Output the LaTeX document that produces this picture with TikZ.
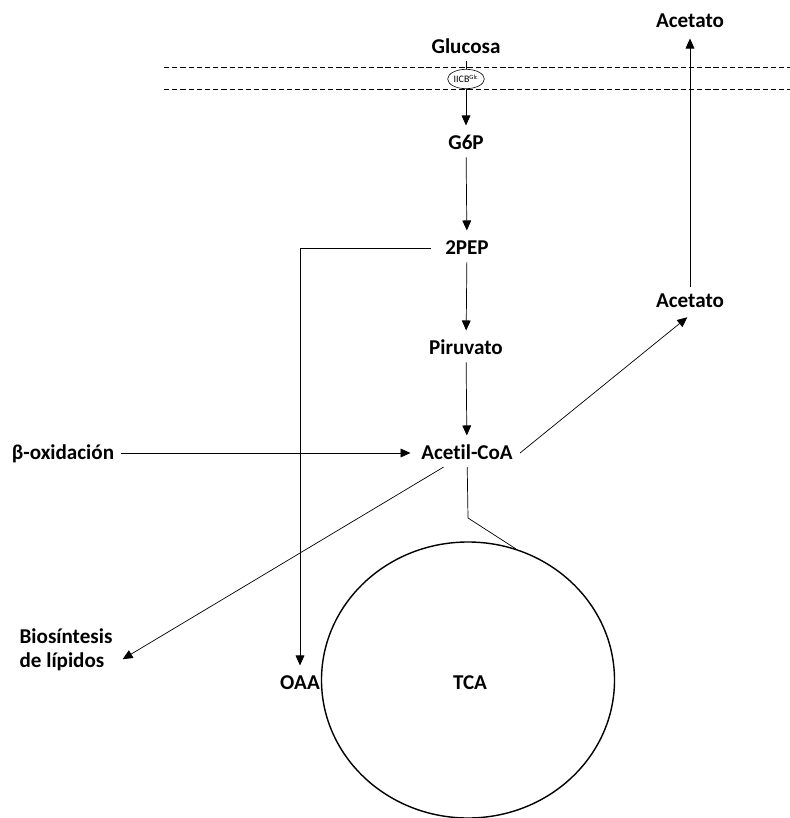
\documentclass[tikz,border=0pt]{standalone}
\usepackage{fontspec}
\setmainfont{Carlito}[Ligatures=NoCommon]
\usetikzlibrary{arrows.meta,shapes.geometric,positioning}

\begin{document}
\begin{tikzpicture}[
    x=0.03cm, y=-0.03cm,
    mol/.style={font=\fontsize{18}{21}\selectfont\bfseries, inner sep=6pt, text height=11.6pt, text depth=0pt},
    arr/.style={-{Triangle[length=8.5pt,width=7.5pt]}, line width=0.6pt, shorten >=3pt},
    ln/.style={line width=0.6pt},
    memb/.style={line width=0.6pt, dash pattern=on 4.5pt off 2.5pt}
]
\useasboundingbox (0,0) rectangle (790,818);

\draw[memb] (164,67) -- (790,67);
\draw[memb] (164,89) -- (790,89);

\node[mol] (gluc) at (466,47) {Glucosa};
\node[draw, ellipse, line width=0.5pt, minimum width=1.1cm, minimum height=0.58cm, inner sep=0pt, fill=white,
      font=\fontsize{8.5}{9}\selectfont] (iicb) at (466,79) {IICB\textsuperscript{\fontsize{5.5}{6}\selectfont Glc}};
\node[mol] (g6p) at (466,143) {G6P};
\node[mol] (pep) at (467,248) {2PEP};
\node[mol] (pir) at (466,348) {Piruvato};
\node[mol] (acoa) at (467,453) {Acetil-CoA};
\node[mol] (boxid) at (63,453) {β-oxidación};
\node[mol] (acet2) at (690,301) {Acetato};
\node[mol] (acet1) at (690,21) {Acetato};
\node[mol, align=left] (lip) at (66,661) {Biosíntesis\\de lípidos};
\node[mol] (oaa) at (300,683) {OAA};
\node[draw, ellipse, line width=1.2pt, minimum width=8.79cm, minimum height=8.28cm, inner sep=0pt] (tca) at (468,680) {};
\node[mol] (tcat) at (470,683) {TCA};
\coordinate (bend) at (468,518);

\draw[ln] (gluc) -- (iicb);
\draw[arr] (iicb) -- (g6p);
\draw[arr] (g6p) -- (pep);
\draw[arr] (pep) -- (pir);
\draw[arr] (pir) -- (acoa);
\draw[arr] (boxid) -- (acoa);
\draw[arr, shorten <=6pt] (pep.west) -| (oaa.north);
\draw[arr] (acoa.east) -- (acet2.south);
\draw[arr] (acet2) -- (acet1);
\draw[arr] (acoa.211) -- (lip.east);
\draw[ln] (acoa) -- (bend) -- (tca.70);
\end{tikzpicture}
\end{document}
